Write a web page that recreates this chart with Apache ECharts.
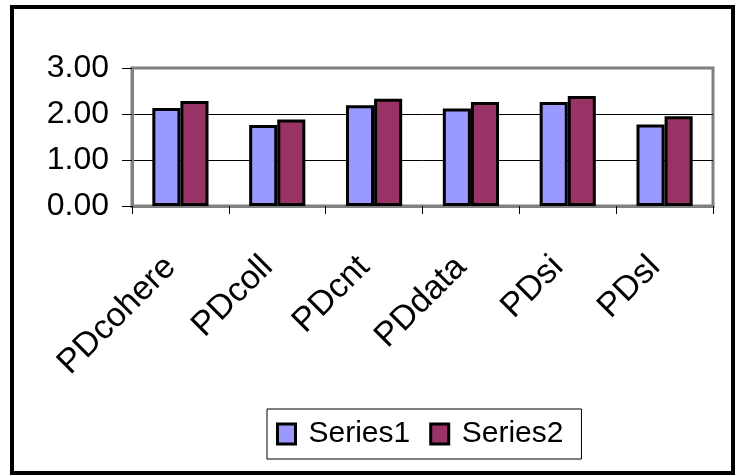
<!DOCTYPE html>
<html>
<head>
<meta charset="utf-8">
<script src="https://cdn.jsdelivr.net/npm/echarts@6/dist/echarts.min.js"></script>
<style>
  html, body { margin: 0; padding: 0; background: #fff; }
  #chart { width: 736px; height: 476px; }
</style>
</head>
<body>
<div id="chart"></div>
<script>
const categories = ['PDcohere', 'PDcoll', 'PDcnt', 'PDdata', 'PDsi', 'PDsl']
const series1 = [2.13, 1.76, 2.19, 2.12, 2.26, 1.77]
const series2 = [2.28, 1.88, 2.33, 2.26, 2.39, 1.95]
const yTicks = [0, 1, 2, 3]

const font = 'Liberation Sans, Arial, sans-serif'
const chart = echarts.init(document.getElementById('chart'))

const option = {
  animation: false,
  backgroundColor: '#fff',
  grid: {
    left: 132,
    right: 23,
    top: 68,
    bottom: 270,
    show: true,
    borderColor: '#808080',
    borderWidth: 3
  },
  legend: {
    left: 267,
    top: 409,
    padding: [10, 18, 10, 9],
    itemWidth: 18,
    itemHeight: 20,
    itemGap: 19,
    borderColor: '#000',
    borderWidth: 1,
    icon: 'rect',
    itemStyle: { borderColor: '#000', borderWidth: 3 },
    textStyle: { fontFamily: font, fontSize: 30, color: '#000', padding: [0, 0, 0, 8] },
    data: ['Series1', 'Series2']
  },
  xAxis: {
    type: 'category',
    data: categories,
    axisLine: { lineStyle: { color: '#808080', width: 3 } },
    axisTick: { show: true, length: 8, lineStyle: { color: '#000' } },
    axisLabel: { rotate: 45, margin: 46, padding: [0, 14, 0, 0], fontFamily: font, fontSize: 34, color: '#000' }
  },
  yAxis: {
    type: 'value',
    min: yTicks[0],
    max: yTicks[yTicks.length - 1],
    interval: 1,
    axisLine: { show: true, lineStyle: { color: '#808080', width: 3 } },
    axisTick: { show: true, length: 10, lineStyle: { color: '#000' } },
    axisLabel: {
      margin: 23,
      fontFamily: font,
      fontSize: 32,
      color: '#000',
      formatter: v => v.toFixed(2)
    },
    splitLine: { show: true, lineStyle: { color: ['#808080', '#000', '#000', '#808080'], width: 1 } }
  },
  series: [
    {
      name: 'Series1',
      type: 'bar',
      data: series1,
      barGap: '0%',
      barCategoryGap: '42%',
      itemStyle: { color: '#9999FF', borderColor: '#000', borderWidth: 3 }
    },
    {
      name: 'Series2',
      type: 'bar',
      data: series2,
      itemStyle: { color: '#993366', borderColor: '#000', borderWidth: 3 }
    }
  ],
  graphic: [
    {
      type: 'rect',
      shape: { x: 12, y: 7, width: 721, height: 466 },
      style: { fill: 'none', stroke: '#000', lineWidth: 4 },
      silent: true
    }
  ]
}

chart.setOption(option)
</script>
</body>
</html>
